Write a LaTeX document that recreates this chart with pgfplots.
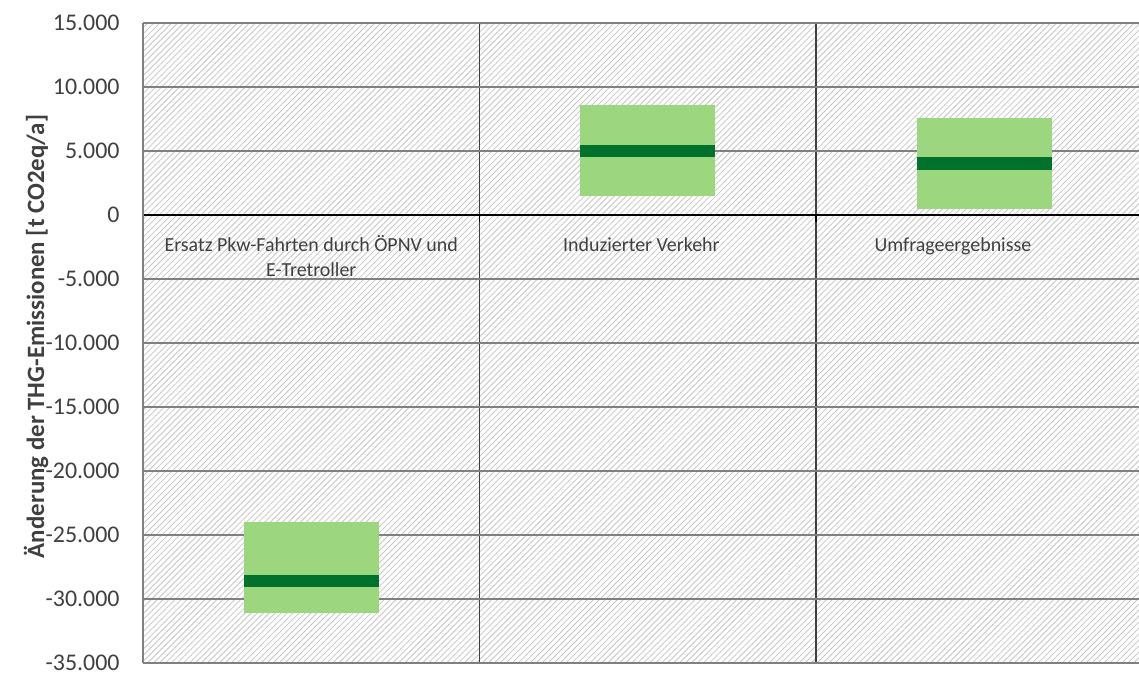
\documentclass[border=0pt]{standalone}
\usepackage{fontspec}
\setmainfont{Carlito}
\usepackage{pgfplots}
\pgfplotsset{compat=1.18}
\usetikzlibrary{patterns}
\definecolor{boxlight}{RGB}{156,214,126}
\definecolor{boxdark}{RGB}{0,114,44}
\definecolor{gridgray}{RGB}{128,128,128}
\definecolor{txt}{RGB}{64,64,64}
\begin{document}
\begin{tikzpicture}
\begin{axis}[
  name=ax,
  scale only axis,
  width=498bp, height=320bp,
  xmin=0, xmax=2.96,
  ymin=-35000, ymax=15000,
  enlargelimits=false,
  axis x line=middle,
  axis y line=left,
  x axis line style={-, black, line width=1.1bp},
  y axis line style={-, gridgray, line width=0.75bp},
  axis background/.style={pattern=north east lines, pattern color=black!22},
  ytick={-35000,-30000,...,15000},
  ymajorgrids,
  major y grid style={gridgray, line width=0.75bp},
  major tick length=0pt,
  minor tick length=3.5bp,
  xtick align=outside,
  scaled y ticks=false,
  y tick label style={font=\fontsize{12}{14}\selectfont, text=txt, inner sep=0pt, xshift=-11.5bp},
  xtick={0.5,1.481,2.407},
  xticklabels={{\begin{tabular}[t]{@{}c@{}}Ersatz Pkw-Fahrten durch ÖPNV und\\E-Tretroller\end{tabular}}, Induzierter Verkehr, Umfrageergebnisse},
  x tick label style={font=\fontsize{10}{12.5}\selectfont, text=txt, inner sep=0pt, anchor=base, yshift=-18.25bp},
  minor xtick={0,1,2},
  xminorgrids,
  minor x grid style={black!75, line width=0.6bp},
  minor x tick style={black, line width=0.8bp},
  /pgf/number format/assume math mode=true,
  /pgf/number format/fixed,
  /pgf/number format/1000 sep={.},
]
% Ersatz Pkw-Fahrten: box -31100 .. -24000, band -29100 .. -28100
\addplot[draw=none, fill=boxlight] coordinates {(0.3,-31100) (0.7,-31100) (0.7,-24000) (0.3,-24000)} -- cycle;
\addplot[draw=none, fill=boxdark] coordinates {(0.3,-29100) (0.7,-29100) (0.7,-28100) (0.3,-28100)} -- cycle;
% Induzierter Verkehr: box 1500 .. 8600, band 4500 .. 5500
\addplot[draw=none, fill=boxlight] coordinates {(1.3,1500) (1.7,1500) (1.7,8600) (1.3,8600)} -- cycle;
\addplot[draw=none, fill=boxdark] coordinates {(1.3,4500) (1.7,4500) (1.7,5500) (1.3,5500)} -- cycle;
% Umfrageergebnisse: box 500 .. 7600, band 3500 .. 4500
\addplot[draw=none, fill=boxlight] coordinates {(2.3,500) (2.7,500) (2.7,7600) (2.3,7600)} -- cycle;
\addplot[draw=none, fill=boxdark] coordinates {(2.3,3500) (2.7,3500) (2.7,4500) (2.3,4500)} -- cycle;
\end{axis}
\node[rotate=90, font=\fontsize{12.5}{15}\selectfont\bfseries, text=txt] at ([xshift=-53.5bp, yshift=3.25bp]ax.west) {Änderung der THG-Emissionen [t CO2eq/a]};
\pgfresetboundingbox
\path ([xshift=-71.5bp, yshift=-5bp]ax.south west) rectangle ([yshift=11.5bp]ax.north east);
\end{tikzpicture}
\end{document}
